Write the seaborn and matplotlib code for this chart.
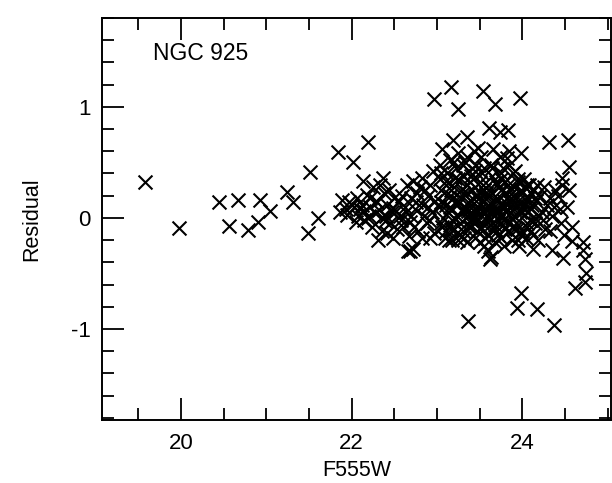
import numpy as np
import pandas as pd
import matplotlib
matplotlib.use("Agg")
import matplotlib.pyplot as plt
from matplotlib.ticker import MultipleLocator
import seaborn as sns

# sparse points, mostly at the bright end and the outliers
sparse_mag = [19.58, 19.98, 20.45, 20.56, 20.67, 20.78, 20.92, 20.90, 21.04, 21.24,
              21.31, 21.51, 21.49, 21.61, 21.84, 22.19, 22.01, 22.13, 22.37, 21.86,
              21.89, 22.96, 23.16, 23.25, 23.54, 23.68, 23.97, 23.61, 23.74, 23.83,
              23.19, 23.35, 23.06, 23.48, 23.82, 23.99, 24.31, 24.54, 24.55, 24.46,
              23.36, 23.98, 23.94, 24.17, 24.37, 24.62, 24.73, 24.75, 24.73, 24.71,
              24.71, 24.58, 24.48, 24.35, 24.13, 23.62, 22.68, 22.92, 23.18, 22.72]
sparse_res = [0.32, -0.09, 0.14, -0.07, 0.16, -0.11, 0.16, -0.04, 0.06, 0.23,
              0.14, 0.41, -0.14, 0.00, 0.59, 0.68, 0.50, 0.33, 0.36, 0.05,
              0.16, 1.07, 1.18, 0.98, 1.14, 1.03, 1.08, 0.81, 0.77, 0.79,
              0.70, 0.73, 0.62, 0.63, 0.54, 0.58, 0.68, 0.70, 0.46, 0.36,
              -0.93, -0.68, -0.81, -0.82, -0.96, -0.63, -0.58, -0.50, -0.37, -0.29,
              -0.22, -0.21, -0.36, -0.29, -0.28, -0.37, -0.30, -0.18, -0.20, -0.28]

# the dense clump of faint stars
clump_mag = [21.93, 21.97, 21.95, 22.03, 22.06, 22.08, 22.05, 22.12, 22.15, 22.18,
             22.14, 22.19, 22.22, 22.25, 22.27, 22.24, 22.29, 22.21, 22.32, 22.35,
             22.38, 22.33, 22.36, 22.39, 22.31, 22.42, 22.45, 22.47, 22.44, 22.49,
             22.41, 22.48, 22.52, 22.55, 22.58, 22.53, 22.57, 22.59, 22.62, 22.65,
             22.68, 22.64, 22.67, 22.69, 22.66, 22.72, 22.74, 22.77, 22.78, 22.75,
             22.73, 22.82, 22.84, 22.86, 22.88, 22.85, 22.83, 22.89, 22.92, 22.94,
             22.96, 22.98, 22.95, 22.91, 23.02, 23.04, 23.06, 23.08, 23.03, 23.07,
             23.09, 23.05, 23.11, 23.13, 23.15, 23.17, 23.19, 23.12, 23.16, 23.18,
             23.14, 23.21, 23.23, 23.25, 23.27, 23.29, 23.22, 23.24, 23.26, 23.28,
             23.30, 23.31, 23.33, 23.35, 23.37, 23.39, 23.32, 23.34, 23.36, 23.38,
             23.40, 23.41, 23.43, 23.45, 23.47, 23.49, 23.42, 23.44, 23.46, 23.48,
             23.50, 23.45, 23.51, 23.53, 23.55, 23.57, 23.59, 23.52, 23.54, 23.56,
             23.58, 23.60, 23.55, 23.57, 23.61, 23.63, 23.65, 23.67, 23.69, 23.62,
             23.64, 23.66, 23.68, 23.70, 23.65, 23.63, 23.71, 23.73, 23.75, 23.77,
             23.79, 23.72, 23.74, 23.76, 23.78, 23.80, 23.75, 23.81, 23.83, 23.85,
             23.87, 23.89, 23.82, 23.84, 23.86, 23.88, 23.90, 23.85, 23.91, 23.93,
             23.95, 23.97, 23.99, 23.92, 23.94, 23.96, 23.98, 24.01, 24.03, 24.05,
             24.07, 24.09, 24.02, 24.04, 24.06, 24.08, 24.11, 24.13, 24.15, 24.17,
             24.19, 24.12, 24.16, 24.18, 24.21, 24.23, 24.25, 24.27, 24.29, 24.24,
             24.32, 24.35, 24.38, 24.33, 24.37, 24.42, 24.45, 24.47, 24.44, 24.49,
             24.52, 24.55, 24.58, 23.46, 23.52, 23.58, 23.66, 23.72, 23.78, 23.88,
             23.42, 23.62, 23.68, 23.74, 23.84, 23.36, 23.28, 23.56, 23.94, 24.00]
clump_res = [0.08, 0.14, 0.03, 0.10, 0.18, 0.02, -0.04, 0.12, 0.06, 0.21,
             -0.02, 0.00, 0.10, 0.28, 0.04, -0.08, 0.15, 0.18, 0.07, -0.12,
             0.22, 0.30, 0.01, -0.03, -0.20, 0.12, -0.05, 0.05, 0.25, 0.09,
             -0.14, -0.18, 0.06, 0.15, -0.02, -0.10, 0.02, 0.20, 0.10, 0.30,
             -0.04, 0.05, -0.16, 0.18, -0.30, 0.33, 0.08, 0.22, -0.12, 0.14,
             -0.08, 0.36, 0.12, 0.25, -0.05, 0.02, -0.18, 0.20, 0.30, 0.05,
             -0.14, 0.15, 0.42, -0.02, 0.10, 0.35, -0.08, 0.22, 0.48, 0.00,
             -0.18, 0.14, 0.30, 0.05, 0.52, -0.10, 0.18, 0.40, 0.25, -0.02,
             -0.20, 0.36, 0.12, 0.58, -0.05, 0.26, 0.45, 0.02, -0.15, 0.18,
             0.38, 0.08, 0.50, 0.22, -0.08, 0.32, -0.18, 0.00, 0.14, 0.42,
             -0.02, 0.25, 0.60, 0.05, -0.12, 0.18, 0.35, -0.04, 0.48, 0.10,
             -0.22, 0.28, 0.12, 0.40, -0.06, 0.22, 0.02, 0.55, 0.30, -0.18,
             0.08, -0.30, 0.15, -0.02, 0.20, 0.48, 0.05, -0.10, 0.32, -0.02,
             0.12, 0.62, -0.22, 0.15, 0.38, -0.35, 0.08, 0.28, -0.05, 0.45,
             0.15, -0.15, 0.55, 0.02, -0.25, 0.22, 0.35, 0.05, 0.30, -0.12,
             0.18, 0.40, -0.02, 0.10, 0.25, -0.20, 0.08, 0.60, 0.18, -0.05,
             0.32, 0.05, -0.15, 0.42, 0.12, -0.25, 0.25, 0.10, 0.28, -0.08,
             0.18, -0.02, 0.35, -0.18, 0.05, 0.30, 0.12, 0.25, -0.05, 0.30,
             0.02, -0.15, 0.15, -0.20, 0.20, 0.05, 0.28, -0.10, 0.12, -0.02,
             0.18, 0.02, 0.25, -0.12, 0.10, 0.20, -0.05, 0.30, 0.08, -0.15,
             0.10, 0.25, -0.08, 0.08, -0.08, 0.20, -0.12, 0.05, 0.10, 0.00,
             0.00, 0.10, -0.06, 0.02, 0.16, 0.06, -0.10, 0.04, -0.10, 0.14]

# extra stars filling the black core of the clump
core_mag = [23.05, 23.05, 23.05, 23.10, 23.10, 23.10, 23.15, 23.15, 23.15, 23.20,
            23.20, 23.20, 23.20, 23.25, 23.25, 23.25, 23.30, 23.30, 23.30, 23.30,
            23.35, 23.35, 23.35, 23.35, 23.40, 23.40, 23.40, 23.40, 23.45, 23.45,
            23.45, 23.45, 23.50, 23.50, 23.50, 23.50, 23.55, 23.55, 23.55, 23.55,
            23.60, 23.60, 23.60, 23.60, 23.65, 23.65, 23.65, 23.65, 23.70, 23.70,
            23.70, 23.70, 23.75, 23.75, 23.75, 23.75, 23.80, 23.80, 23.80, 23.80,
            23.85, 23.85, 23.85, 23.85, 23.90, 23.90, 23.90, 23.95, 23.95, 23.95,
            24.00, 24.00, 24.00, 24.05, 24.05, 24.05, 24.10, 24.10, 24.10, 24.15,
            24.15, 22.00, 22.10, 22.20, 22.30, 22.40, 22.50, 22.60, 22.70, 22.80,
            22.90]
core_res = [0.25, -0.05, 0.40, 0.12, -0.12, 0.33, 0.20, -0.06, 0.10, 0.28,
            0.00, -0.10, 0.50, 0.15, 0.35, -0.20, 0.22, 0.05, -0.12, 0.48,
            0.30, 0.08, -0.22, 0.55, 0.15, 0.38, -0.08, 0.05, 0.20, 0.00,
            -0.18, 0.42, 0.32, 0.08, -0.10, 0.22, 0.45, 0.05, -0.25, 0.25,
            0.12, 0.30, -0.15, 0.02, 0.22, -0.05, 0.45, 0.08, 0.05, 0.30,
            -0.12, 0.18, 0.12, -0.18, 0.40, 0.25, 0.00, 0.32, 0.10, -0.10,
            0.20, -0.05, 0.48, 0.15, 0.28, -0.10, 0.02, 0.15, 0.35, -0.20,
            0.05, 0.22, -0.12, 0.15, 0.30, -0.05, 0.08, -0.12, 0.22, 0.18,
            0.00, 0.12, 0.08, 0.02, 0.14, 0.02, 0.18, -0.08, 0.02, 0.28,
            0.10]

df = pd.DataFrame({
    "F555W": sparse_mag + clump_mag + core_mag,
    "Residual": sparse_res + clump_res + core_res,
})

sns.set_theme(style="ticks")
plt.rcParams["font.family"] = ["Liberation Sans", "DejaVu Sans"]
plt.rcParams["axes.unicode_minus"] = False
plt.rcParams["text.color"] = "black"
plt.rcParams["axes.labelcolor"] = "black"

fig = plt.figure(figsize=(6.12, 4.83), dpi=100)
ax = fig.add_axes([0.1667, 0.1304, 0.8317, 0.8323])

sns.scatterplot(data=df, x="F555W", y="Residual", marker="x", color="black",
                s=100, linewidth=1.5, ax=ax, legend=False)

ax.set_xlim(19.074, 25.04)
ax.set_ylim(-1.82, 1.80)
ax.xaxis.set_major_locator(MultipleLocator(2))
ax.xaxis.set_minor_locator(MultipleLocator(0.5))
ax.yaxis.set_major_locator(MultipleLocator(1))
ax.yaxis.set_minor_locator(MultipleLocator(0.2))
ax.tick_params(which="both", direction="in", top=True, right=True,
               width=1.3, colors="black", labelcolor="black", labelsize=16, pad=8)
ax.tick_params(axis="x", pad=9)
ax.tick_params(which="major", length=16)
ax.tick_params(which="minor", length=8.5)
for sp in ax.spines.values():
    sp.set_linewidth(1.4)
    sp.set_color("black")

ax.set_xlabel("F555W", fontsize=15.5, labelpad=5)
ax.set_ylabel("Residual", fontsize=15.5, labelpad=21)
ax.text(19.67, 1.48, "NGC 925", fontsize=16.5, va="center", ha="left")

fig.savefig("out.png", dpi=100)
